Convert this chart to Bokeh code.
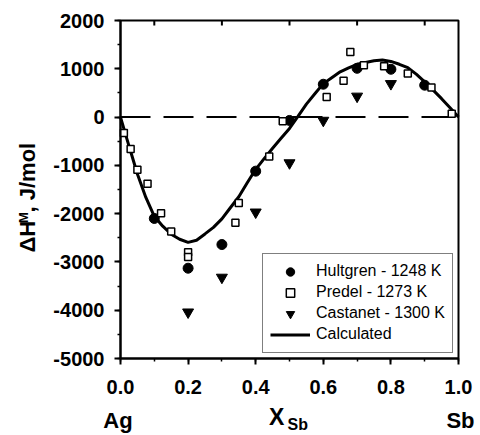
import math
from bokeh.plotting import figure
from bokeh.models import (Range1d, LinearAxis, SingleIntervalTicker,
                          PrintfTickFormatter, Label, Legend, LegendItem)
from bokeh.embed import file_html
from bokeh.resources import INLINE

# ---------------- data ----------------
hult_x = [0.1, 0.2, 0.3, 0.4, 0.5, 0.6, 0.7, 0.8, 0.9]
hult_y = [-2100, -3130, -2640, -1120, -70, 680, 1010, 990, 660]

pred_x = [0.01, 0.03, 0.05, 0.08, 0.12, 0.15, 0.2, 0.2, 0.34, 0.35,
          0.44, 0.48, 0.61, 0.66, 0.68, 0.72, 0.78, 0.85, 0.92, 0.98]
pred_y = [-330, -660, -1090, -1380, -1990, -2370, -2800, -2900, -2190, -1780,
          -815, -85, 415, 750, 1350, 1075, 1050, 900, 610, 70]

cast_x = [0.2, 0.3, 0.4, 0.5, 0.6, 0.7, 0.8]
cast_y = [-4040, -3320, -1970, -950, -70, 430, 690]

calc_x = [0.0, 0.025, 0.05, 0.075, 0.1, 0.125, 0.15, 0.175, 0.2, 0.225,
          0.25, 0.275, 0.3, 0.325, 0.35, 0.375, 0.4, 0.425, 0.45, 0.475,
          0.5, 0.525, 0.55, 0.575, 0.6, 0.625, 0.65, 0.675, 0.7, 0.725,
          0.75, 0.775, 0.8, 0.825, 0.85, 0.875, 0.9, 0.925, 0.95, 0.975, 1.0]
calc_y = [0, -595, -1180, -1665, -2055, -2260, -2425, -2530, -2595, -2550,
          -2420, -2285, -2108, -1878, -1650, -1360, -1082, -860, -645, -440,
          -235, 15, 268, 482, 693, 816, 938, 1020, 1093, 1132,
          1165, 1180, 1152, 1093, 1022, 890, 731, 558, 381, 192, 0]

series_labels = ["Hultgren - 1248 K", "Predel - 1273 K", "Castanet - 1300 K", "Calculated"]
top_ticks = [0.1, 0.3, 0.5, 0.7, 0.9]
zero_x = [0.0, 1.0]
zero_y = [0, 0]

# ---------------- layout ----------------
W, H = 480, 435
FL, FT, FW, FH = 120, 20, 338, 338          # where the drawn plot box sits (px)
XMIN, XMAX, YMIN, YMAX = 0.0, 1.0, -5000, 2000


def px_x(px):
    return XMIN + (px - FL) / FW * (XMAX - XMIN)


def px_y(py):
    return YMAX - (py - FT) / FH * (YMAX - YMIN)


FONT = "Liberation Sans"

# the bokeh frame covers the whole canvas; axes are pinned at the box edges
p = figure(width=W, height=H,
           x_range=Range1d(px_x(0), px_x(W)), y_range=Range1d(px_y(H), px_y(0)),
           x_axis_type=None, y_axis_type=None,
           output_backend="svg", toolbar_location=None,
           min_border_left=0, min_border_right=0, min_border_top=0, min_border_bottom=0)
p.grid.visible = False
p.background_fill_color = "white"
p.border_fill_color = "white"
p.outline_line_color = None


def style_axis(ax):
    ax.axis_line_width = 2
    ax.axis_line_color = "black"
    ax.major_tick_in = 0
    ax.major_tick_out = 6
    ax.minor_tick_in = 0
    ax.minor_tick_out = 3
    ax.major_tick_line_width = 2
    ax.minor_tick_line_width = 1.5
    ax.major_tick_line_color = "black"
    ax.minor_tick_line_color = "black"
    ax.major_label_text_font = FONT
    ax.major_label_text_font_style = "bold"
    ax.major_label_text_font_size = "20px"
    ax.major_label_text_color = "black"


xa = LinearAxis(fixed_location=YMIN, bounds=(XMIN, XMAX),
                ticker=SingleIntervalTicker(interval=0.2, num_minor_ticks=2),
                formatter=PrintfTickFormatter(format="%.1f"))
style_axis(xa)
xa.major_label_standoff = 15
p.add_layout(xa, "below")

ya = LinearAxis(fixed_location=XMIN, bounds=(YMIN, YMAX),
                ticker=SingleIntervalTicker(interval=1000, num_minor_ticks=2),
                formatter=PrintfTickFormatter(format="%d"))
style_axis(ya)
ya.major_label_standoff = 10
p.add_layout(ya, "left")

# box outline (top and right edges)
p.quad(left=[XMIN], right=[XMAX], bottom=[YMIN], top=[YMAX],
       fill_color=None, line_color="black", line_width=2)

# inward ticks on the top edge
tick_len = 5 * (YMAX - YMIN) / FH
p.segment(x0=top_ticks, y0=[YMAX] * len(top_ticks), x1=top_ticks,
          y1=[YMAX - tick_len] * len(top_ticks), line_color="black", line_width=2)

# zero line
p.line(zero_x, zero_y, line_color="black", line_width=2, line_dash="30 13")

# series
r_l = p.line(calc_x, calc_y, line_width=3, line_color="black")
r_h = p.scatter(hult_x, hult_y, marker="circle", size=10,
                fill_color="black", line_color="black")
r_p = p.scatter(pred_x, pred_y, marker="square", size=7,
                fill_color="white", line_color="black", line_width=1.5)
r_c = p.scatter(cast_x, cast_y, marker="inverted_triangle", size=11,
                fill_color="black", line_color="black")

legend = Legend(items=[LegendItem(label=series_labels[0], renderers=[r_h]),
                       LegendItem(label=series_labels[1], renderers=[r_p]),
                       LegendItem(label=series_labels[2], renderers=[r_c]),
                       LegendItem(label=series_labels[3], renderers=[r_l])],
                location=(262, H - 352.5), padding=7, spacing=0, margin=0,
                glyph_width=40, glyph_height=21, label_height=21, label_standoff=6,
                label_text_font=FONT, label_text_font_size="16px",
                label_text_color="black",
                border_line_color="black", border_line_width=1,
                background_fill_color="white", background_fill_alpha=1)
p.add_layout(legend)

SHIFT = 0.39   # bokeh's baseline sits this many ems lower than the anchor


def lab(text, px, py, size, align="left", rotated=False):
    s = float(size.replace("px", ""))
    if rotated:
        px = px - SHIFT * s
    else:
        py = py - SHIFT * s
    p.add_layout(Label(x=px_x(px), y=px_y(py), text=text, text_font=FONT,
                       text_font_style="bold", text_font_size=size,
                       text_color="black", text_align=align,
                       text_baseline="alphabetic",
                       angle=math.pi / 2 if rotated else 0.0))


lab("\u0394H", 35.5, 252, "22px", rotated=True)
lab("M", 28.5, 222.5, "13px", rotated=True)
lab(",  J/mol", 35.5, 212, "22px", rotated=True)
lab("Ag", 117.5, 428.5, "22px", align="center")
lab("Sb", 460, 429, "22px", align="center")
lab("X", 268.5, 425, "23px")
lab("Sb", 287, 430.5, "16px")

open("out.html", "w").write(file_html(p, INLINE))
